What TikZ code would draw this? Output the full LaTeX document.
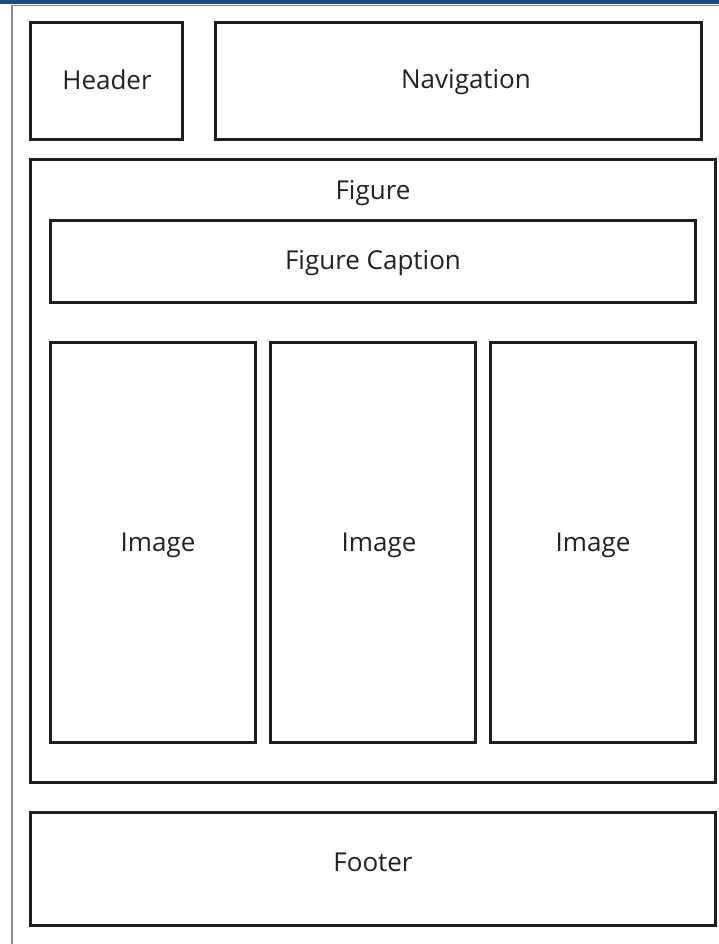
\documentclass[tikz,border=0pt]{standalone}
\usepackage{fontspec}
\setmainfont{Open Sans}
\begin{document}
\begin{tikzpicture}[x=1pt,y=-1pt,
  panel/.style={draw=boxline,line width=3pt},
  lbl/.style={anchor=base,inner sep=0pt,font=\fontsize{26}{30}\selectfont,text=labeltext}]
\definecolor{boxline}{HTML}{1E1E1E}
\definecolor{labeltext}{HTML}{222222}
\definecolor{topbar}{HTML}{1F4E85}
\definecolor{frameline}{HTML}{8A8A8A}
\useasboundingbox (0,0) rectangle (719,944);
\fill[white] (0,0) rectangle (719,944);
% window chrome
\fill[topbar] (0,0) rectangle (719,4.5);
\draw[frameline,line width=1.2pt] (12,5.5) -- (719,5.5);
\draw[frameline,line width=1.2pt] (12,5.5) -- (12,944);
% page regions
\draw[panel] (30,23) rectangle (182,140);
\node[lbl] (header) at (107,90) {Header};
\draw[panel] (215,23) rectangle (701,140);
\node[lbl] (nav) at (466,89) {Navigation};
\draw[panel] (30,160) rectangle (715,782);
\node[lbl] (fig) at (373,200) {Figure};
\draw[panel] (50,220) rectangle (695,302);
\node[lbl] (cap) at (373,269) {Figure Caption};
\draw[panel] (50,342) rectangle (255,742);
\node[lbl] (img1) at (158,551) {Image};
\draw[panel] (270,342) rectangle (475,742);
\node[lbl] (img2) at (379,551) {Image};
\draw[panel] (490,342) rectangle (695,742);
\node[lbl] (img3) at (593,551) {Image};
\draw[panel] (30,812) rectangle (715,925);
\node[lbl] (footer) at (373,871) {Footer};
\end{tikzpicture}
\end{document}
